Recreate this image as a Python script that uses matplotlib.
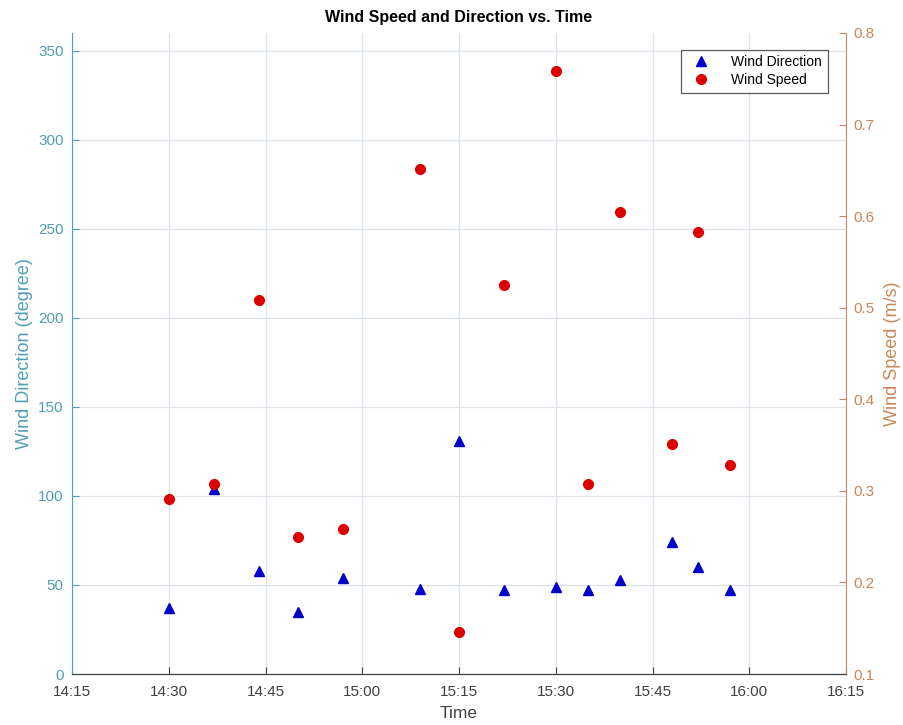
import numpy as np
import matplotlib.pyplot as plt
import matplotlib.dates as mdates
import pandas as pd

plt.rcParams['font.family'] = ['Liberation Sans', 'DejaVu Sans']

times = ["14:30", "14:37", "14:44", "14:50", "14:57", "15:09", "15:15",
         "15:22", "15:30", "15:35", "15:40", "15:48", "15:52", "15:57"]
wind_direction = [37, 104, 58, 35, 54, 48, 131, 47, 49, 47, 53, 74, 60, 47]
wind_speed = [0.291, 0.308, 0.508, 0.250, 0.258, 0.651, 0.146,
              0.525, 0.759, 0.308, 0.605, 0.351, 0.583, 0.328]
x_ticks = ["14:15", "14:30", "14:45", "15:00", "15:15", "15:30", "15:45", "16:00", "16:15"]

day = "2020-01-01 "
t = pd.to_datetime([day + s for s in times])
xt = pd.to_datetime([day + s for s in x_ticks])

left_col = "#4f9fb5"
right_col = "#c8875a"
axis_col = "#404040"

fig = plt.figure(figsize=(9.04, 7.25), dpi=100)
ax = fig.add_axes([0.0796, 0.0703, 0.8564, 0.8842])
ax2 = ax.twinx()

h1, = ax.plot(t, wind_direction, '^', color="#0000c8", markersize=7, label="Wind Direction")
h2, = ax2.plot(t, wind_speed, 'o', color="#dd0000", markersize=7, label="Wind Speed")

ax.set_xlim(xt[0], xt[-1])
ax.set_xticks(xt)
ax.xaxis.set_major_formatter(mdates.DateFormatter("%H:%M"))
ax.set_ylim(0, 360)
ax.set_yticks(np.arange(0, 351, 50))
ax2.set_ylim(0.1, 0.8)
ax2.set_yticks(np.arange(0.1, 0.81, 0.1))
ax2.yaxis.set_major_formatter(plt.FuncFormatter(lambda v, p: f"{v:.1f}"))

ax.grid(True, color="#dde3e8", linewidth=0.9)
ax.set_axisbelow(True)

ax.tick_params(axis='x', direction='in', colors=axis_col, labelsize=11, length=5, pad=8)
ax.tick_params(axis='y', direction='in', colors=left_col, labelsize=11, length=5, pad=6)
ax2.tick_params(axis='y', direction='in', colors=right_col, labelsize=11, length=5, pad=5)

for a in (ax, ax2):
    a.spines['top'].set_visible(False)
ax.spines['left'].set_color(left_col)
ax.spines['right'].set_visible(False)
ax2.spines['left'].set_visible(False)
ax2.spines['right'].set_color(right_col)
ax.spines['bottom'].set_color(axis_col)
ax2.spines['bottom'].set_color(axis_col)

ax.set_xlabel("Time", fontsize=12.5, color=axis_col, labelpad=5)
ax.set_ylabel("Wind Direction (degree)", fontsize=13, color=left_col, labelpad=4)
ax2.set_ylabel("Wind Speed (m/s)", fontsize=13, color=right_col, labelpad=7)
ax.set_title("Wind Speed and Direction vs. Time", fontsize=11.5, fontweight='bold', pad=8)

leg = ax2.legend(handles=[h1, h2], loc='upper right', bbox_to_anchor=(0.985, 0.985),
                 fontsize=10, frameon=True, fancybox=False, edgecolor="#333333",
                 borderpad=0.4, handletextpad=1.2, labelspacing=0.3)
leg.get_frame().set_linewidth(0.9)

plt.savefig("out.png", dpi=100)
plt.close()
